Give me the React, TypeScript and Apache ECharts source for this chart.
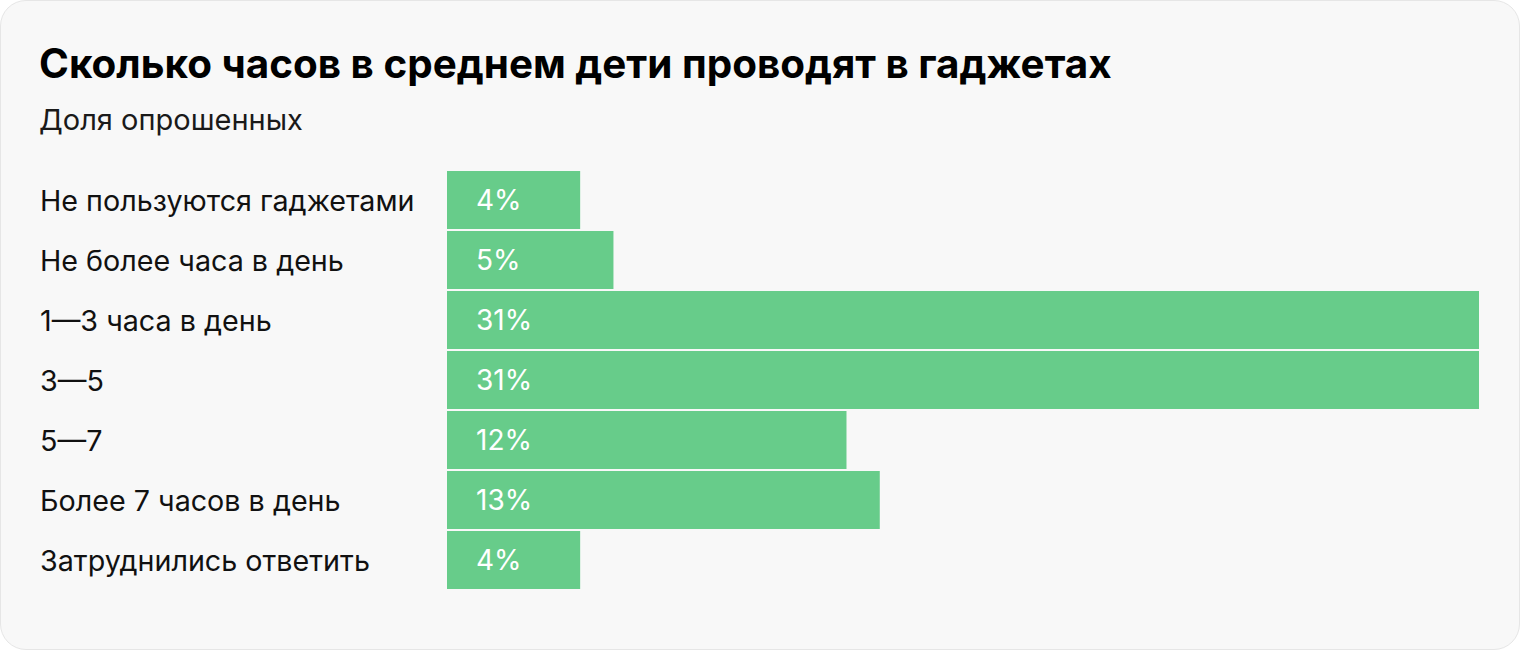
import React, { useEffect, useRef } from "react";
import * as echarts from "echarts";

const categories = [
  "Не пользуются гаджетами",
  "Не более часа в день",
  "1—3 часа в день",
  "3—5",
  "5—7",
  "Более 7 часов в день",
  "Затруднились ответить",
];
const values = [4, 5, 31, 31, 12, 13, 4];
const titleText = "Сколько часов в среднем дети проводят в гаджетах";
const subtitleText = "Доля опрошенных";

const FONT = "Inter, 'Noto Sans', sans-serif";

export default function App() {
  const ref = useRef<HTMLDivElement>(null);
  useEffect(() => {
    document.body.style.margin = "0";
    const chart = echarts.init(ref.current!, null, { renderer: "svg" });
    chart.setOption({
      animation: false,
      title: {
        text: titleText,
        subtext: subtitleText,
        left: 38,
        top: 42,
        padding: 0,
        itemGap: 22,
        textStyle: { fontFamily: FONT, fontSize: 40.4, fontWeight: "bold", color: "#000" },
        subtextStyle: { fontFamily: FONT, fontSize: 29, color: "#1a1a1a" },
      },
      grid: { left: 446, right: 40, top: 169, bottom: 59, containLabel: false },
      xAxis: { type: "value", min: 0, max: 31, show: false },
      yAxis: {
        type: "category",
        data: categories,
        inverse: true,
        axisLine: { show: false },
        axisTick: { show: false },
        axisLabel: {
          align: "left",
          margin: 407,
          fontFamily: FONT,
          fontSize: 28.7,
          color: "#111",
        },
      },
      series: [
        {
          type: "bar",
          data: values,
          barWidth: 58,
          itemStyle: { color: "#67cc8a" },
          label: {
            show: true,
            position: "insideLeft",
            distance: 29,
            formatter: "{c}%",
            fontFamily: FONT,
            fontSize: 28,
            color: "#fff",
          },
        },
      ],
    });
    return () => chart.dispose();
  }, []);
  return (
    <div
      style={{
        position: "absolute",
        left: 0,
        top: 0,
        width: 1518,
        height: 648,
        background: "#f8f8f8",
        border: "1px solid #e6e6e6",
        borderRadius: 26,
      }}
    >
      <div ref={ref} style={{ width: 1518, height: 648 }} />
    </div>
  );
}
